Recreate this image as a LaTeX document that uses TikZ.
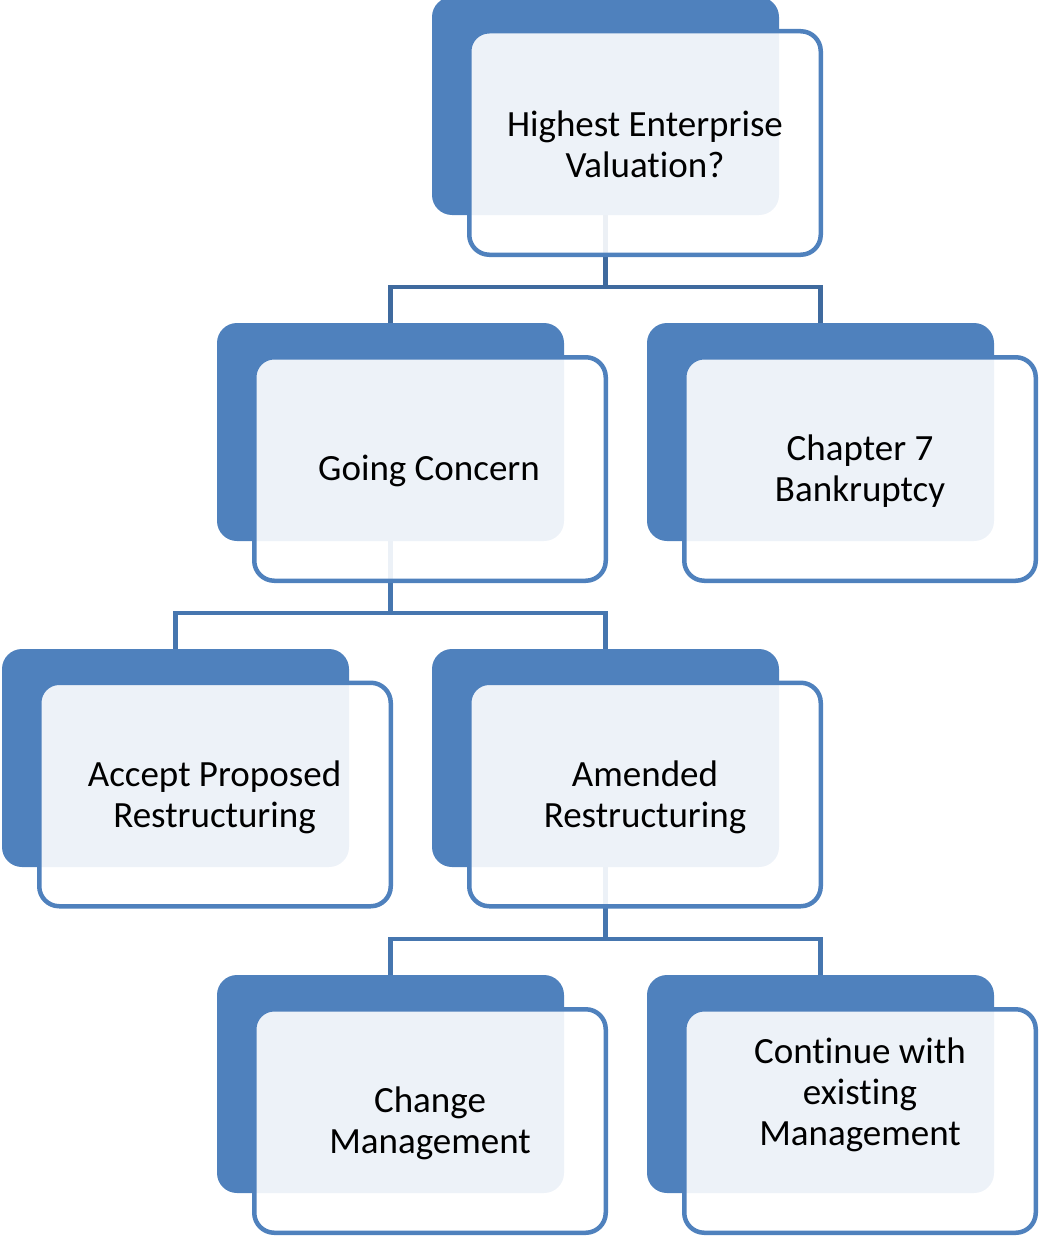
\documentclass[tikz,border=0pt]{standalone}
\usepackage{fontspec}
\setmainfont{Carlito}[Ligatures=NoCommon]
\pgfdeclarelayer{bg}
\pgfsetlayers{bg,main}
\definecolor{dblue}{HTML}{4F81BD}
\definecolor{cone}{HTML}{3F6A9E}
\definecolor{ctwo}{HTML}{4676AF}
\tikzset{
  darkbox/.style={rectangle, rounded corners=20pt, fill=dblue, draw=none, minimum width=347pt, minimum height=218pt, inner sep=0pt},
  outbox/.style={rectangle, rounded corners=20pt, fill=white, fill opacity=0.9, draw=dblue, draw opacity=1, line width=4.5pt, minimum width=351.5pt, minimum height=223.5pt, inner sep=0pt},
  lbl/.style={align=center, font=\fontsize{37}{41}\selectfont, text=black, inner sep=0pt},
  conn/.style={line width=4.5pt},
}
\begin{document}
\begin{tikzpicture}[x=1pt,y=-1pt]
\useasboundingbox (0,0) rectangle (1039,1236);
% row 0
\node[darkbox] (d1) at (605.5,106) {};
\node[outbox] (o1) at (645,143) {};
% row 1
\node[darkbox] (d2) at (390.5,432) {};
\node[outbox] (o2) at (430,469) {};
\node[darkbox] (d3) at (820.5,432) {};
\node[outbox] (o3) at (860,469) {};
% row 2
\node[darkbox] (d4) at (175.5,758) {};
\node[outbox] (o4) at (215,794.5) {};
\node[darkbox] (d5) at (605.5,758) {};
\node[outbox] (o5) at (645,794.5) {};
% row 3
\node[darkbox] (d6) at (390.5,1084) {};
\node[outbox] (o6) at (430,1121) {};
\node[darkbox] (d7) at (820.5,1084) {};
\node[outbox] (o7) at (860,1121) {};
% labels
\node[lbl] (t1) at (645,144) {Highest Enterprise\\Valuation?};
\node[lbl] (t2) at (429,471) {Going Concern};
\node[lbl] (t3) at (860,471) {Chapter 7\\Bankruptcy};
\node[lbl] (t4) at (214.5,797) {Accept Proposed\\Restructuring};
\node[lbl] (t5) at (645,797) {Amended\\Restructuring};
\node[lbl] (t6) at (430,1123) {Change\\Management};
\node[lbl] (t7) at (860,1095) {Continue with\\existing\\Management};
% connectors
\coordinate (j1) at (605.5,287);
\coordinate (j2) at (390.5,613);
\coordinate (j3) at (605.5,939);
\begin{pgfonlayer}{bg}
\draw[conn, draw=cone] (d1.south) -- (j1) -| (d2.north);
\draw[conn, draw=cone] (j1) -| (d3.north);
\draw[conn, draw=ctwo] (d2.south) -- (j2) -| (d4.north);
\draw[conn, draw=ctwo] (j2) -| (d5.north);
\draw[conn, draw=ctwo] (d5.south) -- (j3) -| (d6.north);
\draw[conn, draw=ctwo] (j3) -| (d7.north);
\end{pgfonlayer}
\end{tikzpicture}
\end{document}
